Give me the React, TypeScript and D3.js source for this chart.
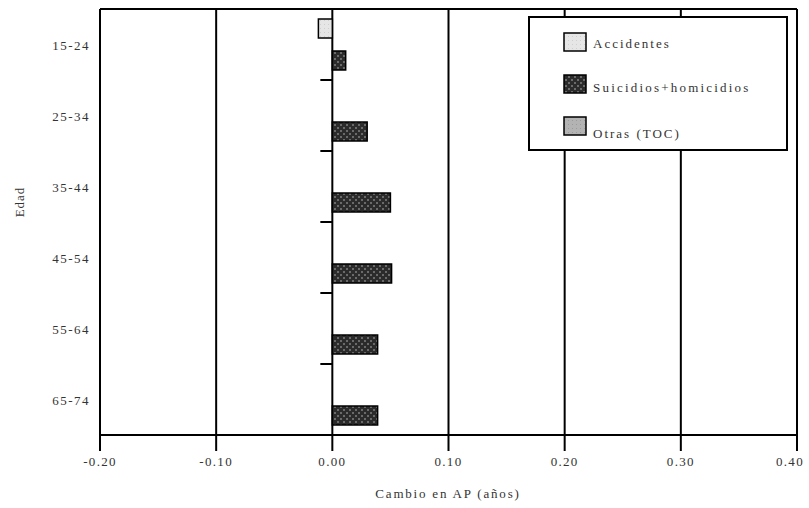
import * as d3 from "d3";

const ageGroups = ["15-24", "25-34", "35-44", "45-54", "55-64", "65-74"];
const seriesNames = ["Accidentes", "Suicidios+homicidios", "Otras (TOC)"];
const accidentes = [-0.012, 0, 0, 0, 0, 0];
const suicidios = [0.0115, 0.03, 0.05, 0.051, 0.039, 0.039];
const otras = [0, 0, 0, 0, 0, 0];
const xTicks = [-0.2, -0.1, 0, 0.1, 0.2, 0.3, 0.4];

const W = 809;
const H = 508;
const margin = { left: 100, right: 12, top: 9, bottom: 73 };
const fills = ["url(#pAcc)", "url(#pSui)", "url(#pOtr)"];
const font = "'Liberation Serif', 'Times New Roman', serif";

export default function App() {
  const x = d3.scaleLinear().domain([-0.2, 0.4]).range([margin.left, W - margin.right]);
  const y = d3.scaleBand().domain(ageGroups).range([margin.top, H - margin.bottom]);
  const bottom = H - margin.bottom;
  const step = 16;
  const barH = 19;
  // order inside a group, top to bottom (bars overlap slightly)
  const inner = d3
    .scalePoint()
    .domain(["Accidentes", "Otras (TOC)", "Suicidios+homicidios"])
    .range([y.bandwidth() / 2 - step, y.bandwidth() / 2 + step]);
  const allSeries = [accidentes, suicidios, otras];

  return (
    <svg width={W} height={H} style={{ position: "absolute", left: 0, top: 0, background: "#fff" }}>
      <defs>
        <pattern id="pAcc" width="4" height="4" patternUnits="userSpaceOnUse">
          <rect width="4" height="4" fill="#e6e6e6" />
          <rect width="1" height="1" fill="#cfcfcf" />
        </pattern>
        <pattern id="pSui" width="6" height="6" patternUnits="userSpaceOnUse">
          <rect width="6" height="6" fill="#2b2b2b" />
          <rect x="1" y="1" width="2" height="2" fill="#6a6a6a" />
          <rect x="4" y="4" width="2" height="2" fill="#6a6a6a" />
        </pattern>
        <pattern id="pOtr" width="4" height="4" patternUnits="userSpaceOnUse">
          <rect width="4" height="4" fill="#b3b3b3" />
          <rect width="1" height="1" fill="#9a9a9a" />
        </pattern>
      </defs>

      {/* gridlines + x ticks */}
      {xTicks.map((t) => (
        <line key={t} x1={x(t)} x2={x(t)} y1={margin.top} y2={bottom + 16} stroke="#000" strokeWidth={2} />
      ))}
      <line x1={margin.left} x2={W - margin.right} y1={margin.top} y2={margin.top} stroke="#000" strokeWidth={2} />
      <line x1={margin.left} x2={W - margin.right} y1={bottom} y2={bottom} stroke="#000" strokeWidth={2} />

      {/* y ticks on zero axis */}
      {ageGroups.slice(1).map((g) => (
        <line key={g} x1={x(0) - 12} x2={x(0)} y1={y(g)} y2={y(g)} stroke="#000" strokeWidth={2} />
      ))}

      {/* bars */}
      {allSeries.map((vals, si) =>
        vals.map((v, i) =>
          v === 0 ? null : (
            <rect
              key={`${si}-${i}`}
              x={Math.min(x(0), x(v))}
              width={Math.abs(x(v) - x(0))}
              y={(y(ageGroups[i]) ?? 0) + (inner(seriesNames[si]) ?? 0) - barH / 2}
              height={barH}
              fill={fills[si]}
              stroke="#000"
              strokeWidth={1.5}
            />
          )
        )
      )}

      {/* x tick labels */}
      {xTicks.map((t) => (
        <text key={t} x={Math.min(x(t), 790)} y={bottom + 31} textAnchor="middle" fontFamily={font} fontSize={13} fill="#333" letterSpacing={1.3}>
          {d3.format(".2f")(t).replace("−", "-")}
        </text>
      ))}

      {/* y labels */}
      {ageGroups.map((g) => (
        <text key={g} x={90} y={(y(g) ?? 0) + y.bandwidth() / 2 + 5} textAnchor="end" fontFamily={font} fontSize={13} fill="#333" letterSpacing={1.5}>
          {g}
        </text>
      ))}

      {/* axis titles */}
      <text x={448} y={498} textAnchor="middle" fontFamily={font} fontSize={13} fill="#333" letterSpacing={1.8}>
        Cambio en AP (años)
      </text>
      <text transform="translate(24,202) rotate(-90)" textAnchor="middle" fontFamily={font} fontSize={13} fill="#333" letterSpacing={1}>
        Edad
      </text>

      {/* legend */}
      <g>
        <rect x={529} y={17} width={258} height={133} fill="#fff" stroke="#000" strokeWidth={2} />
        {seriesNames.map((s, i) => (
          <g key={s}>
            <rect x={564} y={33 + i * 42} width={22} height={18} fill={fills[i]} stroke="#000" strokeWidth={1.5} />
            <text x={593} y={48 + i * 43.5 + (i === 2 ? 3 : 0)} fontFamily={font} fontSize={13} fill="#333" letterSpacing={i === 1 ? 2.2 : 2}>
              {s}
            </text>
          </g>
        ))}
      </g>
    </svg>
  );
}
